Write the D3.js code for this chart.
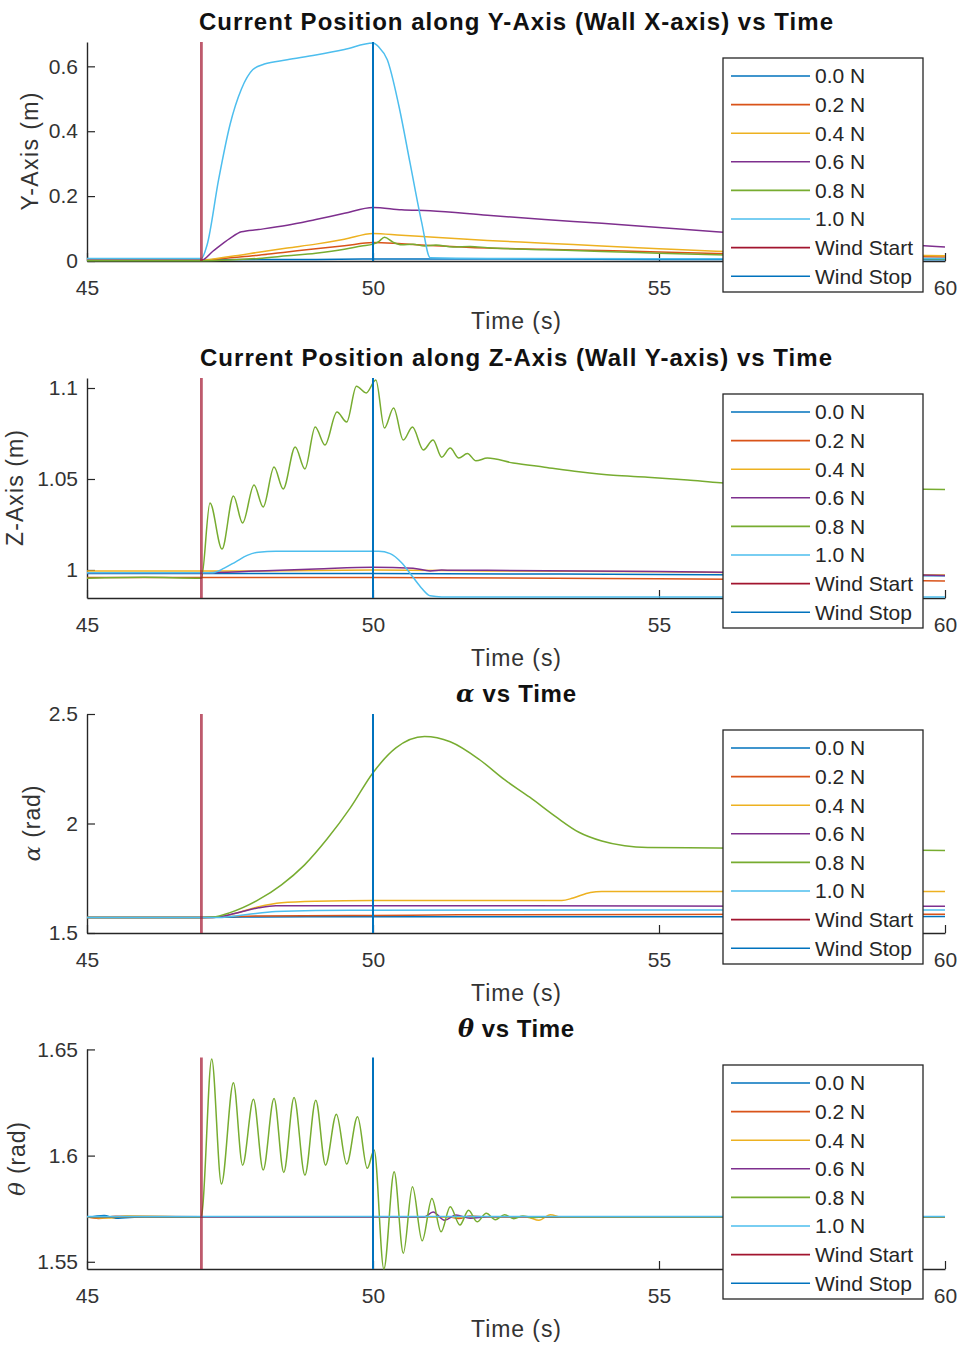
<!DOCTYPE html>
<html>
<head>
<meta charset="utf-8">
<script src="https://cdn.jsdelivr.net/npm/d3@7"></script>
<style>
  body { margin: 0; background: #fff; }
  svg { display: block; }
  text { font-family: "Liberation Sans", Arial, Helvetica, sans-serif; }
</style>
</head>
<body>
<svg id="chart" width="964" height="1347"></svg>
<script>
// ---- data ----
var timeTicks = [45, 50, 55, 60];
var forceLabels = ["0.0 N", "0.2 N", "0.4 N", "0.6 N", "0.8 N", "1.0 N"];
var windLabels = ["Wind Start", "Wind Stop"];
var windStart = 47, windStop = 50;

// Y-axis (wall X-axis) position, m
var yPos00 = [[45,0.004],[47,0.004],[49,0.005],[50,0.006],[52,0.006],[55,0.005],[60,0.004]];
var yPos02 = [[45,0.002],[47,0.002],[47.5,0.01],[48,0.018],[48.5,0.028],[49,0.038],[49.5,0.047],[50,0.057],[50.5,0.053],[51,0.048],[52,0.04],[53,0.036],[54,0.032],[55,0.028],[56,0.023],[58,0.016],[60,0.012]];
var yPos04 = [[45,0.003],[47,0.003],[47.5,0.014],[48,0.027],[48.5,0.04],[49,0.052],[49.5,0.067],[50,0.085],[50.5,0.079],[51,0.074],[52,0.063],[53,0.055],[54,0.046],[55,0.038],[56,0.03],[58,0.021],[60,0.016]];
var yPos06 = [[45,0.002],[47,0.002],[47.2,0.03],[47.5,0.07],[47.7,0.09],[48,0.097],[48.5,0.11],[49,0.128],[49.5,0.147],[50,0.165],[50.5,0.158],[51,0.155],[52,0.141],[53,0.128],[54,0.116],[55,0.103],[56,0.09],[57,0.078],[58,0.066],[59,0.054],[60,0.043]];
var yPos08 = [[45,0.001],[47,0.001],[47.5,0.003],[48,0.008],[48.5,0.016],[49,0.024],[49.5,0.036],[49.8,0.046],[50,0.052],[50.1,0.06],[50.2,0.073],[50.35,0.058],[50.5,0.05],[50.7,0.052],[50.9,0.046],[51.1,0.049],[51.4,0.043],[51.7,0.045],[52,0.041],[53,0.035],[54,0.029],[55,0.024],[56,0.019],[58,0.011],[60,0.006]];
var yPos10 = [[45,0.008],[47,0.008],[47.1,0.05],[47.3,0.25],[47.5,0.42],[47.7,0.53],[47.9,0.59],[48.1,0.607],[48.5,0.62],[49,0.635],[49.5,0.652],[50,0.672],[50.1,0.66],[50.25,0.62],[50.45,0.48],[50.65,0.3],[50.85,0.12],[51,0.01],[52,0.008],[55,0.007],[60,0.008]];

// Z-axis (wall Y-axis) position, m
var zPos00 = [[45,0.998],[47,0.998],[50,0.998],[55,0.9975],[60,0.9968]];
var zPos02 = [[45,0.9958],[47,0.9958],[50,0.9958],[55,0.9952],[60,0.994]];
var zPos04 = [[45,0.9995],[47,0.9995],[48,0.9995],[50,1.0],[52,0.9995],[55,0.999],[60,0.9972]];
var zPos06 = [[45,0.9985],[47,0.9985],[48,0.9995],[49,1.0005],[50,1.0015],[50.7,1.001],[51,0.9995],[51.2,1.0],[51.4,0.9998],[52,0.9998],[55,0.9992],[58,0.998],[60,0.997]];
var zPos08 = [[45,0.9955],[46,0.996],[47,0.9955],[47.15,1.0368],[47.36,1.0115],[47.56,1.0407],[47.72,1.0258],[47.92,1.0467],[48.08,1.0346],[48.27,1.0566],[48.43,1.0445],[48.64,1.0676],[48.81,1.0555],[48.99,1.0786],[49.16,1.0687],[49.37,1.0868],[49.54,1.0813],[49.71,1.101],[49.88,1.0973],[50.05,1.1044],[50.2,1.078],[50.36,1.089],[50.53,1.0714],[50.69,1.0786],[50.88,1.066],[51.05,1.0714],[51.2,1.062],[51.35,1.067],[51.5,1.0615],[51.65,1.064],[51.8,1.06],[52,1.0615],[52.45,1.0588],[53,1.0565],[53.6,1.054],[54.2,1.052],[54.8,1.051],[55.5,1.0495],[56.07,1.048],[57,1.0465],[58,1.0455],[59,1.0448],[60,1.0442]];
var zPos10 = [[45,0.9985],[47.2,0.9985],[47.4,1.001],[47.6,1.0045],[47.8,1.008],[48,1.0098],[48.3,1.0103],[50.1,1.0103],[50.3,1.009],[50.5,1.004],[50.7,0.996],[50.85,0.99],[51,0.9858],[51.2,0.9852],[60,0.9852]];

// alpha, rad
var alpha00 = [[45,1.571],[47,1.571],[47.5,1.572],[48,1.573],[50,1.574],[55,1.574],[60,1.575]];
var alpha02 = [[45,1.571],[47,1.571],[47.5,1.575],[48,1.578],[50,1.58],[51.5,1.583],[55,1.585],[60,1.586]];
var alpha04 = [[45,1.571],[47.2,1.571],[47.6,1.59],[48,1.62],[48.4,1.638],[49,1.645],[50,1.648],[53.3,1.648],[53.5,1.66],[53.8,1.685],[54,1.689],[60,1.69]];
var alpha06 = [[45,1.571],[47.2,1.571],[47.6,1.59],[48,1.615],[48.3,1.625],[50,1.625],[55,1.623],[60,1.622]];
var alpha08 = [[45,1.571],[47,1.571],[47.2,1.573],[47.5,1.593],[48,1.652],[48.4,1.72],[48.8,1.81],[49.2,1.93],[49.6,2.07],[50,2.232],[50.4,2.345],[50.9,2.397],[51.35,2.373],[51.87,2.29],[52.3,2.2],[52.74,2.12],[53.2,2.03],[53.6,1.96],[54,1.92],[54.4,1.898],[54.8,1.89],[56,1.888],[58,1.882],[60,1.877]];
var alpha10 = [[45,1.571],[47.3,1.571],[47.8,1.585],[48.3,1.598],[49,1.603],[50,1.604],[55,1.605],[60,1.605]];

// theta, rad
var theta00 = [[45,1.5708],[45.3,1.5718],[45.5,1.5705],[46,1.5712],[47,1.571],[50,1.5712],[55,1.5711],[60,1.5711]];
var theta02 = [[45,1.5712],[45.2,1.5704],[45.5,1.5714],[47,1.5712],[51.3,1.5712],[51.5,1.5704],[51.7,1.5716],[52,1.571],[60,1.571]];
var theta04 = [[45,1.571],[45.4,1.5706],[45.7,1.5716],[47,1.571],[52.7,1.571],[52.9,1.5695],[53.1,1.5722],[53.3,1.571],[60,1.571]];
var theta06 = [[45,1.5711],[47,1.5711],[50.9,1.5711],[51.05,1.5735],[51.25,1.5695],[51.45,1.572],[51.7,1.5705],[52,1.5712],[60,1.5712]];
var theta08 = [[45,1.5712],[47,1.5712],[47.02,1.575],[47.18,1.6455],[47.35,1.5866],[47.56,1.6343],[47.72,1.5955],[47.91,1.6265],[48.08,1.5932],[48.27,1.6269],[48.44,1.5921],[48.62,1.6274],[48.81,1.5908],[49,1.6261],[49.17,1.5955],[49.36,1.6195],[49.54,1.596],[49.73,1.6183],[49.9,1.594],[50.02,1.6026],[50.19,1.5466],[50.37,1.5924],[50.53,1.554],[50.69,1.5853],[50.86,1.5599],[51.03,1.5798],[51.19,1.5641],[51.35,1.5759],[51.52,1.5673],[51.67,1.5743],[51.82,1.5688],[51.98,1.5728],[52.14,1.5698],[52.3,1.5722],[52.46,1.5703],[52.62,1.5716],[52.8,1.5708],[53,1.5712],[60,1.5712]];
var theta10 = [[45,1.5713],[60,1.5713]];

var yTicks1 = [0, 0.2, 0.4, 0.6];
var yTicks2 = [1, 1.05, 1.1];
var yTicks3 = [1.5, 2, 2.5];
var yTicks4 = [1.55, 1.6, 1.65];

// MATLAB default colour order
var lineColors = ["#0072BD", "#D95319", "#EDB120", "#7E2F8E", "#77AC30", "#4DBEEE"];
var windColors = ["#A2142F", "#0072BD"];

var panels = [
    {title: [["Current Position along Y-Axis (Wall X-axis) vs Time", false]], titleW: 634,
     ylabel: [["Y-Axis (m)", false]], ylabelW: 118, ylabelX: 30,
     domain: [0, 0.675], ticks: yTicks1, windTop: 0.675,
     series: [yPos00, yPos02, yPos04, yPos06, yPos08, yPos10], top: 42, bottom: 261},
    {title: [["Current Position along Z-Axis (Wall Y-axis) vs Time", false]], titleW: 632,
     ylabel: [["Z-Axis (m)", false]], ylabelW: 116, ylabelX: 15,
     domain: [0.9846, 1.1055], ticks: yTicks2, windTop: 1.1055,
     series: [zPos00, zPos02, zPos04, zPos06, zPos08, zPos10], top: 378, bottom: 598},
    {title: [["α", true], [" vs Time", false]], titleW: 120,
     ylabel: [["α", true], [" (rad)", false]], ylabelW: 76, ylabelX: 32,
     domain: [1.5, 2.5], ticks: yTicks3, windTop: 2.5,
     series: [alpha00, alpha02, alpha04, alpha06, alpha08, alpha10], top: 714, bottom: 933},
    {title: [["θ", true], [" vs Time", false]], titleW: 116,
     ylabel: [["θ", true], [" (rad)", false]], ylabelW: 74, ylabelX: 17,
     domain: [1.5466, 1.6502], ticks: yTicks4, windTop: 1.6462,
     series: [theta00, theta02, theta04, theta06, theta08, theta10], top: 1049, bottom: 1269}
];

var svg = d3.select("#chart");
var axisColor = "#262626";

var x = d3.scaleLinear().domain([45, 60]).range([87, 945]);

function addRichText(sel, parts) {
    parts.forEach(function (p) {
        var t = sel.append("tspan").text(p[0]);
        if (p[1]) {
            t.style("font-family", "'DejaVu Serif', 'Liberation Serif', serif")
                .style("font-style", "italic");
        }
    });
}

function drawPanel(p, idx) {
    var y = d3.scaleLinear().domain(p.domain).range([p.bottom, p.top]);
    var g = svg.append("g");

    g.append("clipPath").attr("id", "clip" + idx)
        .append("rect")
        .attr("x", 87).attr("y", p.top - 1)
        .attr("width", 945 - 87).attr("height", p.bottom - p.top + 2);

    // axes, ticks pointing inwards
    var xAxis = g.append("g")
        .attr("transform", "translate(0," + p.bottom + ")")
        .call(d3.axisBottom(x).tickValues(timeTicks).tickSizeInner(-8).tickSizeOuter(0).tickPadding(19));
    var yAxis = g.append("g")
        .attr("transform", "translate(87,0)")
        .call(d3.axisLeft(y).tickValues(p.ticks).tickSizeInner(-8).tickSizeOuter(0).tickPadding(9)
            .tickFormat(function (d) { return String(d); }));
    [xAxis, yAxis].forEach(function (a) {
        a.select(".domain").attr("stroke", axisColor).attr("stroke-width", 1.4);
        a.selectAll(".tick line").attr("stroke", axisColor).attr("stroke-width", 1.2);
        a.selectAll(".tick text")
            .attr("fill", "#333")
            .style("font-size", "21px")
            .style("font-family", "'Liberation Sans', Arial, sans-serif");
    });

    var line = d3.line()
        .x(function (d) { return x(d[0]); })
        .y(function (d) { return y(d[1]); })
        .curve(d3.curveMonotoneX);

    var plot = g.append("g").attr("clip-path", "url(#clip" + idx + ")");
    p.series.forEach(function (s, i) {
        plot.append("path")
            .datum(s)
            .attr("fill", "none")
            .attr("stroke", lineColors[i])
            .attr("stroke-width", 1.5)
            .attr("stroke-linejoin", "round")
            .attr("d", line);
    });

    // wind start / stop markers
    plot.append("line")
        .attr("x1", x(windStart)).attr("x2", x(windStart))
        .attr("y1", y(p.windTop)).attr("y2", p.bottom)
        .attr("stroke", windColors[0]).attr("stroke-opacity", 0.7)
        .attr("stroke-width", 2.8);
    plot.append("line")
        .attr("x1", x(windStop)).attr("x2", x(windStop))
        .attr("y1", y(p.windTop)).attr("y2", p.bottom)
        .attr("stroke", windColors[1])
        .attr("stroke-width", 2);

    // title
    var title = g.append("text")
        .attr("x", 516).attr("y", p.top - 20)
        .attr("dy", "0.35em")
        .attr("text-anchor", "middle")
        .attr("textLength", p.titleW)
        .attr("lengthAdjust", "spacing")
        .style("font-size", "24px")
        .style("font-weight", "bold")
        .attr("fill", "#111");
    addRichText(title, p.title);

    // x label
    g.append("text")
        .attr("x", 516).attr("y", p.bottom + 60)
        .attr("dy", "0.35em")
        .attr("text-anchor", "middle")
        .attr("textLength", 90)
        .attr("lengthAdjust", "spacing")
        .style("font-size", "23px")
        .attr("fill", "#333")
        .text("Time (s)");

    // y label
    var yl = g.append("text")
        .attr("transform", "translate(" + p.ylabelX + "," + ((p.top + p.bottom) / 2) + ") rotate(-90)")
        .attr("dy", "0.35em")
        .attr("text-anchor", "middle")
        .attr("textLength", p.ylabelW)
        .attr("lengthAdjust", "spacing")
        .style("font-size", "23px")
        .attr("fill", "#333");
    addRichText(yl, p.ylabel);

    // legend
    var legTop = p.top + 16;
    var leg = g.append("g");
    leg.append("rect")
        .attr("x", 723).attr("y", legTop)
        .attr("width", 200).attr("height", 234)
        .attr("fill", "#fff")
        .attr("stroke", axisColor).attr("stroke-width", 1.3);
    var entries = forceLabels.map(function (l, i) { return [l, lineColors[i]]; })
        .concat(windLabels.map(function (l, i) { return [l, windColors[i]]; }));
    entries.forEach(function (e, i) {
        var ry = legTop + 18 + i * 28.6;
        leg.append("line")
            .attr("x1", 731).attr("x2", 810)
            .attr("y1", ry).attr("y2", ry)
            .attr("stroke", e[1]).attr("stroke-width", 1.6);
        leg.append("text")
            .attr("x", 815).attr("y", ry)
            .attr("dy", "0.35em")
            .style("font-size", "21px")
            .attr("fill", "#262626")
            .text(e[0]);
    });
}

panels.forEach(drawPanel);
</script>
</body>
</html>
